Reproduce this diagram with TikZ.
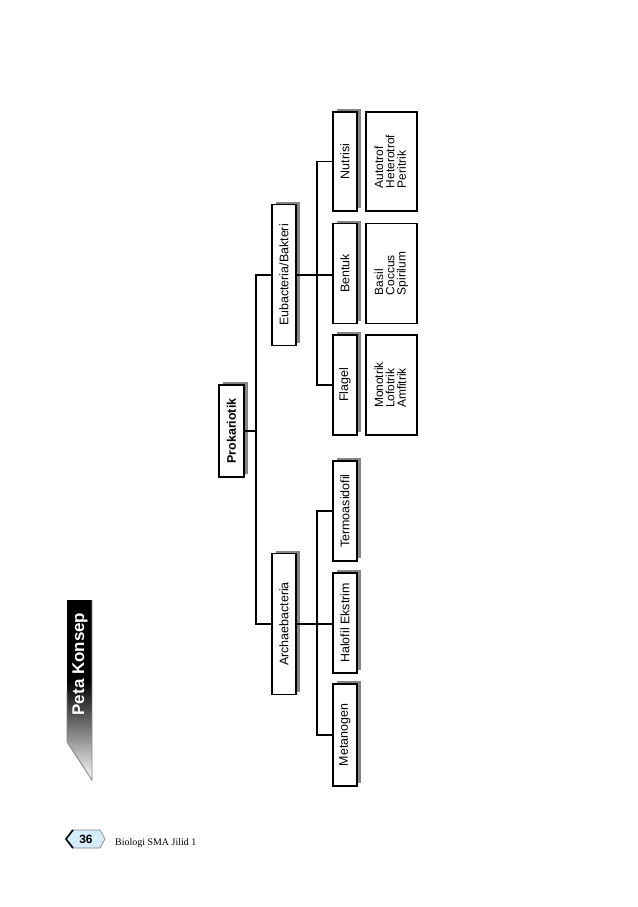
\documentclass[tikz,border=0pt]{standalone}
\usepackage{fontspec}
\setmainfont{Liberation Sans}
\newfontfamily\serifface{Liberation Serif}
\usepackage{graphicx}
\definecolor{shadowgray}{HTML}{858585}
\definecolor{numblue}{HTML}{D5ECFA}
\begin{document}
\begin{tikzpicture}[x=1bp,y=-1bp,
  box/.style={draw=black, line width=1.8bp, fill=white, inner sep=0pt,
    minimum width=24bp, minimum height=100bp,
    font=\fontsize{12.5}{13}\selectfont,
    preaction={fill=shadowgray, transform canvas={xshift=3.5bp,yshift=3bp}}},
  listbox/.style={draw=black, line width=1.8bp, fill=white, inner sep=0pt,
    minimum width=51bp, minimum height=100bp,
    font=\fontsize{12}{9.3}\selectfont},
  conn/.style={line width=1.8bp}]
\useasboundingbox (0,0) rectangle (638,907);
\fill[white] (0,0) rectangle (638,907);

% Peta Konsep tab
\begin{scope}
  \clip (67,600) -- (92,600) -- (92,780) -- (67,742) -- cycle;
  \fill[black] (67,599) rectangle (92,682);
  \shade[top color=black, bottom color=white] (67,681) rectangle (92,781);
\end{scope}
\draw[gray, line width=0.8bp] (67,690) -- (67,742) -- (92,780) -- (92,600);
\node[text=white, font=\fontsize{17}{17}\selectfont\bfseries, inner sep=0pt] (peta) at (80,664) {\rotatebox{90}{Peta Konsep}};

% root
\node[box, minimum height=92bp, minimum width=25bp, font=\fontsize{12.5}{13}\selectfont\bfseries] (prok) at (231.5,431) {\rotatebox{90}{Prokariotik}};

% level 1
\node[box, minimum height=141bp] (eub) at (284,275) {\rotatebox{90}{Eubacteria/Bakteri}};
\node[box, minimum height=141bp] (arch) at (284,624) {\rotatebox{90}{Archaebacteria}};

% Eubacteria children
\node[box, minimum height=99bp] (nut) at (345,161.5) {\rotatebox{90}{Nutrisi}};
\node[box] (ben) at (345,273.5) {\rotatebox{90}{Bentuk}};
\node[box] (fla) at (345,385) {\rotatebox{90}{Flagel}};

\node[listbox, minimum height=99bp] (nutl) at (391.5,161.5) {\rotatebox{90}{\begin{tabular}{@{}l@{}}Autotrof\\Heterotrof\\Peritrik\end{tabular}}};
\node[listbox] (benl) at (391.5,273.5) {\rotatebox{90}{\begin{tabular}{@{}l@{}}Basil\\Coccus\\Spirilum\end{tabular}}};
\node[listbox] (flal) at (391.5,385) {\rotatebox{90}{\begin{tabular}{@{}l@{}}Monotrik\\Lofotrik\\Amfitrik\end{tabular}}};

% Archaebacteria children
\node[box] (ter) at (345,511) {\rotatebox{90}{Termoasidofil}};
\node[box] (hal) at (345,623) {\rotatebox{90}{Halofil Ekstrim}};
\node[box, minimum height=102bp] (met) at (345,735) {\rotatebox{90}{Metanogen}};

% connectors
\coordinate (t1) at (256,275);
\coordinate (t2) at (256,624);
\draw[conn] (prok.east) -- (prok.east -| t1);
\draw[conn] (eub.west) -| (t1) -- (t2) -- (arch.west);
\draw[conn] (eub.east) -- (eub.east -| ben.west);
\draw[conn] (nut.west) -- ++(-15,0) |- (fla.west);
\draw[conn] (arch.east) -- (arch.east -| hal.west);
\draw[conn] (ter.west) -- ++(-15,0) |- (met.west);

% page number
\draw[fill=numblue, draw=gray, line width=0.6bp] (66,839) -- (72,830) -- (100,830) -- (105,839) -- (100,848) -- (72,848) -- cycle;
\draw[line width=1.6bp] (73,830) -- (66,839) -- (73,848);
\node[font=\fontsize{12}{12}\selectfont\bfseries, inner sep=0pt] (num) at (86,839.5) {36};
\node[font=\serifface\fontsize{10}{10}\selectfont, anchor=west, inner sep=0pt] (book) at (115,843) {Biologi SMA Jilid 1};
\end{tikzpicture}
\end{document}
